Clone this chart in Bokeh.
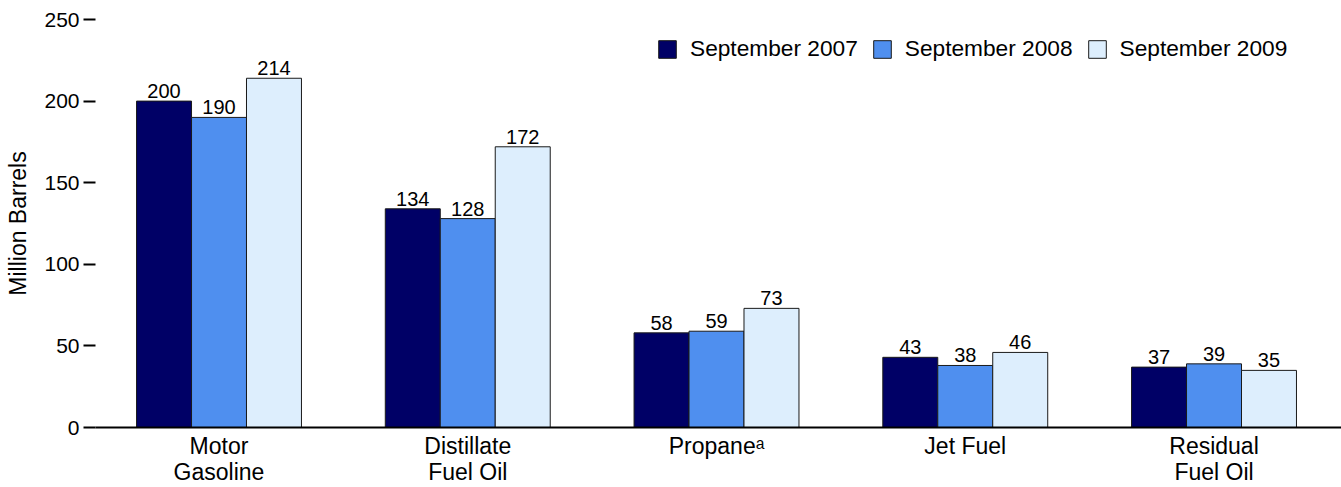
from bokeh.plotting import figure
from bokeh.models import ColumnDataSource, Range1d, FixedTicker, Legend, LegendItem, LabelSet
from bokeh.transform import dodge
from bokeh.core.properties import value
from bokeh.embed import file_html
from bokeh.resources import INLINE

categories = ["Motor\nGasoline", "Distillate\nFuel Oil", "Propane\u1d43", "Jet Fuel", "Residual\nFuel Oil"]
series_names = ["September 2007", "September 2008", "September 2009"]
sep2007 = [200, 134, 58, 43, 37]
sep2008 = [190, 128, 59, 38, 39]
sep2009 = [214, 172, 73, 46, 35]
y_ticks = [0, 50, 100, 150, 200, 250]

colors = ["#000066", "#4F8FEF", "#DDEEFD"]
FONT = "Liberation Sans"

xs = list(range(len(categories)))
src = ColumnDataSource(dict(x=xs, s0=sep2007, s1=sep2008, s2=sep2009,
                            l0=[str(v) for v in sep2007],
                            l1=[str(v) for v in sep2008],
                            l2=[str(v) for v in sep2009]))

p = figure(width=1341, height=487, output_backend="svg", toolbar_location=None,
           x_range=Range1d(-0.4965, 4.5125), y_range=Range1d(0, 250),
           min_border_left=95, min_border_right=0, min_border_top=19, min_border_bottom=60)
p.outline_line_color = None
p.grid.visible = False
p.background_fill_color = "white"

bw = 0.221
offs = [-bw, 0, bw]
renderers = []
for i, (col, c) in enumerate(zip(["s0", "s1", "s2"], colors)):
    r = p.vbar(x=dodge("x", offs[i], range=p.x_range), top=col, width=bw, source=src,
               fill_color=c, line_color="#1a1a1a", line_width=1)
    renderers.append(r)
    lab = LabelSet(x=dodge("x", offs[i], range=p.x_range), y=col, text="l%d" % i, source=src,
                   text_align="center", text_baseline="bottom", y_offset=3,
                   text_font=value(FONT), text_font_size="20px", text_color="black")
    p.add_layout(lab)

legend = Legend(items=[LegendItem(label=n, renderers=[r]) for n, r in zip(series_names, renderers)],
                orientation="horizontal", location=(561, 365),
                glyph_width=22, glyph_height=22, label_standoff=12, spacing=13,
                padding=0, margin=0, border_line_alpha=0, background_fill_alpha=0,
                label_text_font=FONT, label_text_font_size="22.7px", label_text_color="black")
p.add_layout(legend)

# y axis
p.yaxis.ticker = FixedTicker(ticks=y_ticks)
p.yaxis.axis_line_alpha = 0
p.yaxis.major_tick_in = 0
p.yaxis.major_tick_out = 12
p.yaxis.major_tick_line_width = 2
p.yaxis.major_tick_line_color = "black"
p.yaxis.minor_tick_line_alpha = 0
p.yaxis.major_label_standoff = 4
p.yaxis.major_label_text_font = FONT
p.yaxis.major_label_text_font_size = "21px"
p.yaxis.major_label_text_color = "black"
p.yaxis.axis_label = "Million Barrels"
p.yaxis.axis_label_text_font = FONT
p.yaxis.axis_label_text_font_size = "23px"
p.yaxis.axis_label_text_font_style = "normal"
p.yaxis.axis_label_text_color = "black"
p.yaxis.axis_label_standoff = 10

# x axis
p.xaxis.ticker = FixedTicker(ticks=xs)
p.xaxis.major_label_overrides = {i: c for i, c in zip(xs, categories)}
p.xaxis.axis_line_width = 2
p.xaxis.axis_line_color = "black"
p.xaxis.major_tick_in = 0
p.xaxis.major_tick_out = 0
p.xaxis.minor_tick_line_alpha = 0
p.xaxis.major_label_standoff = 5
p.xaxis.major_label_text_font = FONT
p.xaxis.major_label_text_font_size = "23px"
p.xaxis.major_label_text_line_height = 1.0
p.xaxis.major_label_text_color = "black"

open("out.html", "w").write(file_html(p, INLINE))
